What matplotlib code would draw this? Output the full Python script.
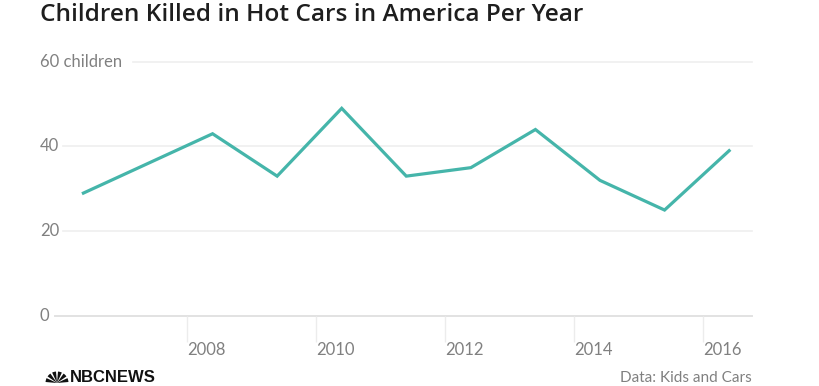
import matplotlib
matplotlib.use("Agg")
import matplotlib.pyplot as plt
from matplotlib.transforms import blended_transform_factory, IdentityTransform
from matplotlib.patches import Wedge

# ---- data ----
years = [2006, 2007, 2008, 2009, 2010, 2011, 2012, 2013, 2014, 2015, 2016]
deaths = [29, 36, 43, 33, 49, 33, 35, 44, 32, 25, 39]
tick_years = [2008, 2010, 2012, 2014, 2016]
ytick_values = [0, 20, 40, 60]
ytick_labels = ["0", "20", "40", "60 children"]
title = "Children Killed in Hot Cars in America Per Year"
source = "Data: Kids and Cars"

# ---- style ----
W, H = 820, 386
LINE_COLOR = "#45b5aa"
GRID_COLOR = "#efefef"
ZERO_COLOR = "#e2e2e2"
LABEL_COLOR = "#808080"
FONT = ["Lato", "DejaVu Sans"]
POINT_OFFSET = 0.4  # points sit ~0.4 yr after the year tick

fig = plt.figure(figsize=(W / 100, H / 100), dpi=100)
fig.patch.set_facecolor("white")

ax_l, ax_r, ax_t, ax_b = 55, 752, 58, 320
ax = fig.add_axes([ax_l / W, 1 - ax_b / H, (ax_r - ax_l) / W, (ax_b - ax_t) / H])
ax.set_xlim(2005.56, 2016.354)
ax.set_ylim(-0.944, 60.873)
ax.axis("off")

# gridlines
grid_start_px = {0: 55, 20: 63, 40: 63, 60: 133}
for v in ytick_values:
    xmin = (grid_start_px[v] - ax_l) / (ax_r - ax_l)
    ax.axhline(v, xmin=xmin, xmax=1, color=ZERO_COLOR if v == 0 else GRID_COLOR,
               lw=1.4 if v == 0 else 1.2, zorder=1, clip_on=False)

# y labels
ytrans = blended_transform_factory(fig.transFigure, ax.transData)
for v, lab in zip(ytick_values, ytick_labels):
    ax.text(40 / W, v, lab, transform=ytrans, ha="left", va="center",
            fontsize=12, color=LABEL_COLOR, family=FONT)

# x ticks and labels
tick_pos = [y - POINT_OFFSET for y in tick_years]
ax.vlines(tick_pos, 0, -6.1, color="#ececec", lw=1, clip_on=False, zorder=1)
xtrans = blended_transform_factory(ax.transData, fig.transFigure)
for p, y in zip(tick_pos, tick_years):
    ax.text(p, 1 - 355 / H, str(y), transform=xtrans, ha="left", va="baseline",
            fontsize=12, color=LABEL_COLOR, family=FONT)

# line
ax.plot(years, deaths, color=LINE_COLOR, lw=2.3, solid_joinstyle="miter",
        zorder=3, clip_on=False)

# title
fig.text(40 / W, 1 - 21 / H, title, ha="left", va="baseline",
         fontsize=17.6, fontweight="semibold", color="#1e1e1e",
         family=["Open Sans", "DejaVu Sans"])

# source
fig.text(752 / W, 1 - 382 / H, source, ha="right", va="baseline",
         fontsize=11, color=LABEL_COLOR, family=FONT)

# NBC News logo (peacock fan + wordmark)
for i in range(6):
    a0 = 180 - i * 30
    w = Wedge((57, H - 383), 11.5, a0 - 25, a0 - 5, facecolor="#111111",
              linewidth=0, transform=IdentityTransform())
    fig.add_artist(w)
fig.text(70 / W, 1 - 382 / H, "NBCNEWS", ha="left", va="baseline",
         fontsize=12, fontweight="bold", color="#111111",
         family=["Liberation Sans Narrow", "Liberation Sans", "DejaVu Sans"])

fig.savefig("out.png", dpi=100, facecolor="white")
